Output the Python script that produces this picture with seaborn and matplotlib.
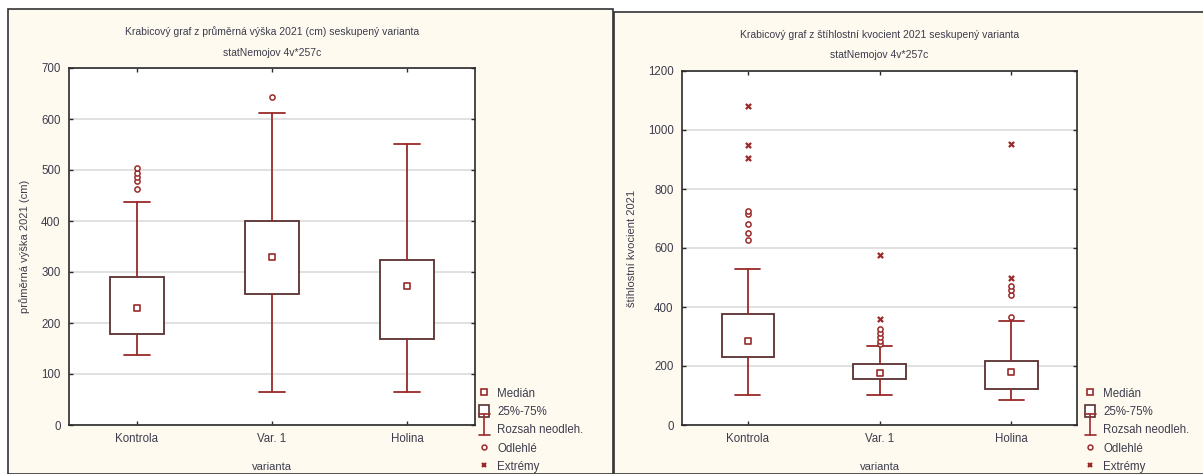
import matplotlib
matplotlib.use("Agg")
import matplotlib.pyplot as plt
from matplotlib.patches import Rectangle, Patch
from matplotlib.lines import Line2D
from matplotlib.legend_handler import HandlerBase
import seaborn as sns
import pandas as pd

# --- data ---
kategorie = ["Kontrola", "Var. 1", "Holina"]

# průměrná výška 2021 (cm)
vyska_median = [230, 330, 273]
vyska_q1 = [179, 256, 169]
vyska_q3 = [290, 400, 324]
vyska_min = [138, 65, 65]
vyska_max = [438, 612, 551]
vyska_odlehle = [[463, 478, 487, 495, 503], [643], []]
vyska_extremy = [[], [], []]

# štíhlostní kvocient 2021
kvoc_median = [284, 177, 181]
kvoc_q1 = [232, 157, 123]
kvoc_q3 = [377, 207, 217]
kvoc_min = [102, 102, 85]
kvoc_max = [530, 268, 352]
kvoc_odlehle = [[628, 652, 680, 716, 725], [273, 285, 298, 312, 327], [366, 439, 456, 471]]
kvoc_extremy = [[905, 950, 1080], [358, 575], [500, 952]]

RED = "#9a2a2a"
BOX = "#5a3030"
TXT = "#3c3c4c"
CREAM = "#fffaf0"

sns.set_theme(style="white")
plt.rcParams["font.family"] = ["Liberation Sans", "DejaVu Sans"]

fig = plt.figure(figsize=(12.03, 4.74), dpi=100)
W, H = 1203, 474


def fx(px):
    return px / W


def fy(py):
    return 1 - py / H


# panel backgrounds
fig.patches.append(Rectangle((fx(8), 0), fx(612.7 - 8), fy(9), transform=fig.transFigure,
                             facecolor=CREAM, edgecolor="#333333", lw=1.2, zorder=-5))
fig.patches.append(Rectangle((fx(613.5), 0), fx(1203 - 613.5) + 0.01, fy(12), transform=fig.transFigure,
                             facecolor=CREAM, edgecolor="#333333", lw=1.2, zorder=-5))


class WhiskerHandler(HandlerBase):
    def create_artists(self, legend, orig_handle, xd, yd, width, height, fontsize, trans):
        cx = xd + width / 2
        top, bot = yd + height + 3, yd - 3
        return [
            Line2D([cx, cx], [bot, top], color=RED, lw=1.2, transform=trans),
            Line2D([cx - 4, cx + 4], [top, top], color=RED, lw=1.2, transform=trans),
            Line2D([cx - 4, cx + 4], [bot, bot], color=RED, lw=1.2, transform=trans),
        ]


def draw_panel(ax, med, q1, q3, lo, hi, odl, ext, ymax, ystep, title, ylabel, legend_pos):
    stats = []
    for i in range(len(kategorie)):
        stats.append({"med": med[i], "q1": q1[i], "q3": q3[i],
                      "whislo": lo[i], "whishi": hi[i], "fliers": []})
    ax.bxp(stats, positions=range(len(kategorie)), widths=0.4, capwidths=0.19,
           showfliers=False, patch_artist=True,
           boxprops=dict(facecolor="white", edgecolor=BOX, lw=1.3),
           whiskerprops=dict(color=RED, lw=1.3),
           capprops=dict(color=RED, lw=1.3),
           medianprops=dict(visible=False), zorder=3)

    df_med = pd.DataFrame({"x": range(len(kategorie)), "y": med})
    sns.scatterplot(data=df_med, x="x", y="y", ax=ax, marker="s", s=16,
                    facecolor="white", edgecolor=RED, linewidth=1.2, zorder=5)

    rows_o = [(i, v) for i, vals in enumerate(odl) for v in vals]
    if rows_o:
        df_o = pd.DataFrame(rows_o, columns=["x", "y"])
        sns.scatterplot(data=df_o, x="x", y="y", ax=ax, marker="o", s=14,
                        facecolor="white", edgecolor=RED, linewidth=1.1, zorder=5)
    rows_e = [(i, v) for i, vals in enumerate(ext) for v in vals]
    if rows_e:
        df_e = pd.DataFrame(rows_e, columns=["x", "y"])
        sns.scatterplot(data=df_e, x="x", y="y", ax=ax, marker="x", s=14,
                        color=RED, linewidth=1.6, zorder=5)

    ax.set_xlim(-0.5, len(kategorie) - 0.5)
    ax.set_ylim(0, ymax)
    ax.set_yticks(range(0, ymax + 1, ystep))
    ax.set_xticks(range(len(kategorie)))
    ax.set_xticklabels(kategorie)
    ax.yaxis.grid(True, color="#dcdcdc", lw=1.2)
    ax.set_axisbelow(True)
    ax.set_facecolor("white")
    for s in ax.spines.values():
        s.set_color("#2a2a2a")
        s.set_linewidth(1.2)
    ax.tick_params(axis="both", which="both", direction="in", length=3, width=1,
                   color="#2a2a2a", labelsize=8.3, labelcolor=TXT,
                   top=True, right=True, left=True, bottom=True, pad=6)
    ax.set_xlabel("varianta", fontsize=8, color=TXT, labelpad=12)
    ax.set_ylabel(ylabel, fontsize=8, color=TXT, labelpad=8)
    ax.set_title(title, fontsize=7.5, color=TXT, pad=9, linespacing=2.3)

    wh = Line2D([], [])
    handles = [
        Line2D([], [], marker="s", ls="none", markersize=4.5, markerfacecolor="white",
               markeredgecolor=RED, markeredgewidth=1.2),
        Patch(facecolor="white", edgecolor=BOX, lw=1.2),
        wh,
        Line2D([], [], marker="o", ls="none", markersize=3.5, markerfacecolor="white",
               markeredgecolor=RED, markeredgewidth=1.1),
        Line2D([], [], marker="x", ls="none", markersize=3.5, color=RED, markeredgewidth=1.6),
    ]
    labels = ["Medián", "25%-75%", "Rozsah neodleh.", "Odlehlé", "Extrémy"]
    leg = fig.legend(handles, labels, loc="lower left", bbox_to_anchor=legend_pos,
                     bbox_transform=fig.transFigure, frameon=False, fontsize=8.3,
                     handlelength=0.9, handleheight=1.3, handletextpad=0.7,
                     labelspacing=0.45, borderaxespad=0, borderpad=0,
                     handler_map={wh: WhiskerHandler()})
    for t in leg.get_texts():
        t.set_color(TXT)


ax1 = fig.add_axes([fx(69), fy(425), fx(475 - 69), fy(68) - fy(425)])
draw_panel(ax1, vyska_median, vyska_q1, vyska_q3, vyska_min, vyska_max,
           vyska_odlehle, vyska_extremy, 700, 100,
           "Krabicový graf z průměrná výška 2021 (cm) seskupený varianta\nstatNemojov 4v*257c",
           "průměrná výška 2021 (cm)", (fx(479), fy(473)))

ax2 = fig.add_axes([fx(682), fy(425), fx(1077 - 682), fy(71) - fy(425)])
draw_panel(ax2, kvoc_median, kvoc_q1, kvoc_q3, kvoc_min, kvoc_max,
           kvoc_odlehle, kvoc_extremy, 1200, 200,
           "Krabicový graf z štíhlostní kvocient 2021 seskupený varianta\nstatNemojov 4v*257c",
           "štíhlostní kvocient 2021", (fx(1085), fy(473)))

fig.savefig("out.png", dpi=100)
